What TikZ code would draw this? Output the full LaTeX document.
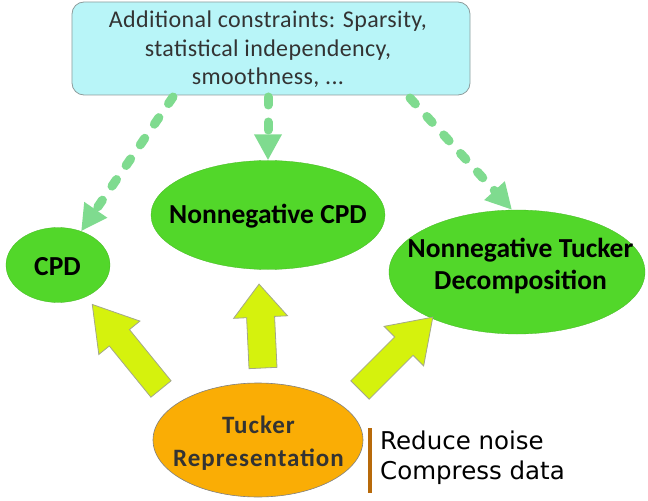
\documentclass[tikz,border=0pt]{standalone}
\usepackage{fontspec}
\setmainfont{Carlito}
\newfontfamily\spacedfont{Carlito}[LetterSpace=4]
\newfontfamily\boxfont{Carlito}[LetterSpace=1.5]
\newfontfamily\verdfont{DejaVu Sans}
\usetikzlibrary{shapes.geometric,arrows.meta,calc}
\definecolor{boxcyan}{HTML}{B8F5F8}
\definecolor{boxedge}{HTML}{8E9C9C}
\definecolor{leafgreen}{HTML}{52D72A}
\definecolor{dashgreen}{HTML}{7FDB8F}
\definecolor{blockyellow}{HTML}{D5F20D}
\definecolor{blockedge}{HTML}{A3A88A}
\definecolor{tuckerorange}{HTML}{FAAD05}
\definecolor{barbrown}{HTML}{B86A0A}
\definecolor{darktext}{HTML}{333333}
\begin{document}
\begin{tikzpicture}[x=1bp,y=-1bp,
  constraintbox/.style={draw=boxedge, fill=boxcyan, rounded corners=12bp, line width=0.8bp,
    minimum width=398bp, minimum height=93bp, inner sep=0pt},
  constrainttext/.style={inner sep=0pt, align=center,
    font=\boxfont\fontsize{24bp}{28.5bp}\selectfont, text=darktext},
  leaf/.style={ellipse, fill=leafgreen, draw=leafgreen!85!black, line width=0.3bp, inner sep=0pt},
  leaftext/.style={inner sep=0pt, align=center, font=\bfseries\fontsize{27.5bp}{32bp}\selectfont},
  tuckerell/.style={ellipse, fill=tuckerorange, draw=gray, line width=0.6bp, inner sep=0pt},
  tuckertext/.style={inner sep=0pt, align=center,
    font=\spacedfont\bfseries\fontsize{25bp}{33bp}\selectfont, text=darktext},
  dasharrow/.style={draw=dashgreen, line width=9bp, line cap=round, dash pattern=on 8bp off 17bp,
    -{Triangle[width=26bp,length=26bp]}},
  blockarrow/.style={fill=blockyellow, draw=blockedge, line width=0.8bp, line join=miter}
]
\useasboundingbox (0,0) rectangle (648,501);

% nodes
\node[constraintbox] (cons) at (271,48.5) {};
\node[constrainttext] (constext) at (268,49.5) {Additional constraints: Sparsity,\\statistical independency,\\smoothness, ...};
\node[leaf, minimum width=104bp, minimum height=75bp] (cpd) at (58,265) {};
\node[leaftext] (cpdtext) at (57.5,267) {CPD};
\node[leaf, minimum width=234bp, minimum height=109bp] (ncpd) at (268,215) {};
\node[leaftext] (ncpdtext) at (268,216) {Nonnegative CPD};
\node[leaf, minimum width=256bp, minimum height=124bp] (ntd) at (517,272) {};
\node[leaftext] (ntdtext) at (520.5,266) {Nonnegative Tucker\\Decomposition};
\node[tuckerell, minimum width=210bp, minimum height=114bp] (tucker) at (258,440) {};
\node[tuckertext] (tuckertxt) at (258.5,443.5) {Tucker\\Representation};

% side note
\fill[barbrown] (368,428) rectangle (372,493);
\node[anchor=west, align=left, inner sep=0pt, font=\verdfont\fontsize{24.5bp}{30bp}\selectfont] (note) at (380,458) {Reduce noise\\Compress data};

% dashed connectors
\coordinate (s1) at (173,97);
\coordinate (s2) at (268,97);
\coordinate (s3) at (410,98);
\draw[dasharrow] (s1) -- (cpd);
\draw[dasharrow] (s2) -- (ncpd);
\draw[dasharrow] (s3) -- ($(ntd.north)+(-5,0)$);

% block arrows from Tucker representation
\coordinate (b1) at (161,389);
\coordinate (b2) at (263,368);
\coordinate (b3) at (360,390);
\begin{scope}[shift={(b1)}, rotate=129.1]
  \draw[blockarrow] (0,-13)--(66,-13)--(66,-26.5)--(109,0)--(66,26.5)--(66,13)--(0,13)--cycle;
\end{scope}
\begin{scope}[shift={(b2)}, rotate=92.7]
  \draw[blockarrow] (0,-14)--(51,-14)--(51,-27)--(84,0)--(51,27)--(51,14)--(0,14)--cycle;
\end{scope}
\begin{scope}[shift={(b3)}, rotate=45]
  \draw[blockarrow] (0,-13)--(62,-13)--(62,-28)--(103,0)--(62,28)--(62,13)--(0,13)--cycle;
\end{scope}
\end{tikzpicture}
\end{document}
